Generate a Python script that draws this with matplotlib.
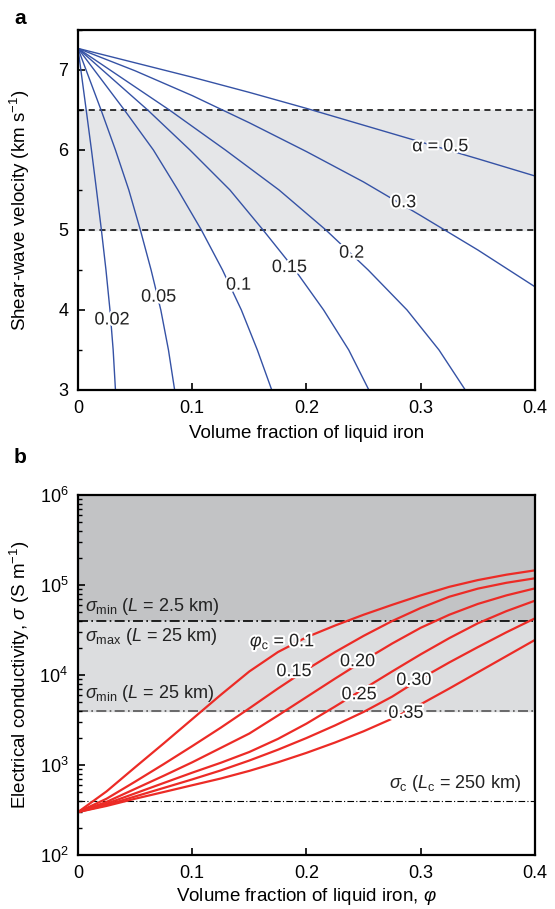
import matplotlib
matplotlib.use("Agg")
import matplotlib.pyplot as plt
import matplotlib.patheffects as pe
from matplotlib.ticker import MultipleLocator, LogLocator, NullFormatter

plt.rcParams['font.family'] = ['Liberation Sans', 'DejaVu Sans']
plt.rcParams['mathtext.fontset'] = 'custom'
plt.rcParams['mathtext.rm'] = 'Liberation Sans'
plt.rcParams['mathtext.it'] = 'Liberation Sans:italic'
plt.rcParams['mathtext.bf'] = 'Liberation Sans:bold'
plt.rcParams['font.size'] = 13

# ---- panel a: shear-wave velocity vs liquid fraction, one curve per alpha
alpha_labels = ["0.02", "0.05", "0.1", "0.15", "0.2", "0.3", "α = 0.5"]
vs_levels = [7.27, 6.5, 6.0, 5.5, 5.0, 4.5, 4.0, 3.5, 3.0]
vs_x_a002 = [0, 0.0072, 0.0118, 0.0162, 0.0205, 0.0245, 0.0280, 0.0308, 0.0328]
vs_x_a005 = [0, 0.0202, 0.0328, 0.0445, 0.0546, 0.0640, 0.0725, 0.0792, 0.0846]
vs_x_a01 = [0, 0.0406, 0.0660, 0.0875, 0.1080, 0.1265, 0.1430, 0.1570, 0.1696]
vs_x_a015 = [0, 0.061, 0.098, 0.133, 0.162, 0.190, 0.215, 0.237, 0.2546]
vs_x_a02 = [0, 0.080, 0.129, 0.176, 0.217, 0.254, 0.288, 0.316, 0.339]
phi_grid_a = [0, 0.05, 0.1, 0.15, 0.2, 0.25, 0.3, 0.35, 0.4]
vs_a03 = [7.27, 6.99, 6.68, 6.34, 5.98, 5.60, 5.18, 4.75, 4.29]
vs_a05 = [7.27, 7.09, 6.91, 6.72, 6.52, 6.31, 6.10, 5.89, 5.675]
alpha_label_x = [0.0298, 0.0706, 0.1405, 0.185, 0.2395, 0.285, 0.317]
alpha_label_y = [3.875, 4.16, 4.31, 4.53, 4.71, 5.34, 6.04]
vs_band = [5.0, 6.5]

# ---- panel b: electrical conductivity (S/m), one curve per critical fraction
phic_labels = [r"$\varphi_{\rm c}$ = 0.1", "0.15", "0.20", "0.25", "0.30", "0.35"]
phi_grid_b = [0, 0.025, 0.05, 0.075, 0.1, 0.125, 0.15, 0.175, 0.2,
              0.225, 0.25, 0.275, 0.3, 0.325, 0.35, 0.375, 0.4]
sig_pc010 = [300, 509, 944, 1738, 3236, 6026, 10960, 17990, 26300,
             35480, 46770, 60260, 76740, 95500, 113500, 130300, 145600]
sig_pc015 = [300, 422, 653, 1023, 1622, 2600, 4266, 7079, 11480,
             17990, 27230, 39810, 55590, 74130, 91200, 105900, 118900]
sig_pc020 = [300, 389, 543, 759, 1072, 1549, 2239, 3548, 5689,
             9120, 14450, 22390, 33500, 46770, 61660, 76740, 91830]
sig_pc025 = [300, 372, 484, 631, 822, 1059, 1396, 1950, 2884,
             4467, 7000, 10960, 16980, 25700, 37580, 51290, 66990]
sig_pc030 = [300, 359, 447, 556, 692, 871, 1122, 1479, 1995,
             2754, 3890, 5754, 9120, 13800, 20420, 29850, 42660]
sig_pc035 = [300, 351, 422, 501, 596, 708, 861, 1072, 1365,
             1778, 2371, 3273, 4732, 7079, 10720, 16220, 24550]
phic_label_x = [0.179, 0.189, 0.2447, 0.246, 0.294, 0.287]
phic_label_y = [23400, 10900, 14060, 6030, 8710, 3750]

sig_min_25 = 4000
sig_max_25 = 40000
sig_c = 400

xticks = [0, 0.1, 0.2, 0.3, 0.4]
xticklabels = ["0", "0.1", "0.2", "0.3", "0.4"]

blue = "#3552a5"
red = "#ec2b26"
txt = "#222222"
halo = [pe.withStroke(linewidth=3, foreground="white")]
dashdot = (0, (6, 2, 1, 2))

fig = plt.figure(figsize=(5.55, 9.09), dpi=100)
ax1 = fig.add_axes([0.1405, 0.5710, 0.8234, 0.3960])
ax2 = fig.add_axes([0.1405, 0.0594, 0.8234, 0.3960])

# panel a
ax1.axhspan(vs_band[0], vs_band[1], color="#e5e6e8", zorder=0)
for v in vs_band:
    ax1.axhline(v, color="black", lw=1.1, ls=(0, (4, 3)), zorder=1)
for xs in [vs_x_a002, vs_x_a005, vs_x_a01, vs_x_a015, vs_x_a02]:
    ax1.plot(xs, vs_levels, color=blue, lw=1.0, zorder=2)
ax1.plot(phi_grid_a, vs_a03, color=blue, lw=1.0, zorder=2)
ax1.plot(phi_grid_a, vs_a05, color=blue, lw=1.0, zorder=2)
for lab, lx, ly in zip(alpha_labels, alpha_label_x, alpha_label_y):
    ax1.text(lx, ly, lab, ha="center", va="center", fontsize=13,
             color=txt, path_effects=halo, zorder=3)
ax1.set_xlim(0, 0.4)
ax1.set_ylim(3, 7.5)
ax1.yaxis.set_major_locator(MultipleLocator(1))
ax1.yaxis.set_minor_locator(MultipleLocator(0.5))
ax1.set_ylabel(r"Shear-wave velocity (km s$^{-1}$)", fontsize=13.5)
ax1.set_xlabel("Volume fraction of liquid iron", fontsize=13.5, labelpad=6)

# panel b
ax2.set_yscale("log")
ax2.axhspan(sig_max_25, 1e6, color="#c2c3c5", zorder=0)
ax2.axhspan(sig_min_25, sig_max_25, color="#dcdddf", zorder=0)
ax2.axhline(sig_max_25, color="black", lw=1.2, ls=dashdot, zorder=1)
ax2.axhline(sig_min_25, color="#555555", lw=1.2, ls=dashdot, zorder=1)
ax2.axhline(sig_c, color="black", lw=0.8, ls=dashdot, zorder=1)
for ys in [sig_pc010, sig_pc015, sig_pc020, sig_pc025, sig_pc030, sig_pc035]:
    ax2.plot(phi_grid_b, ys, color=red, lw=1.6, zorder=2)
for lab, lx, ly in zip(phic_labels, phic_label_x, phic_label_y):
    ax2.text(lx, ly, lab, ha="center", va="center", fontsize=13,
             color=txt, path_effects=halo, zorder=3)
ax2.text(0.006, 58000, r"$\sigma_{\rm min}$ ($L$ = 2.5 km)", ha="left", va="center",
         fontsize=13, color=txt)
ax2.text(0.006, 27000, r"$\sigma_{\rm max}$ ($L$ = 25 km)", ha="left", va="center",
         fontsize=13, color=txt)
ax2.text(0.006, 6300, r"$\sigma_{\rm min}$ ($L$ = 25 km)", ha="left", va="center",
         fontsize=13, color=txt)
ax2.text(0.388, 617, r"$\sigma_{\rm c}$ ($L_{\rm c}$ = 250 km)", ha="right", va="center",
         fontsize=13, color=txt)
ax2.set_xlim(0, 0.4)
ax2.set_ylim(1e2, 1e6)
ax2.yaxis.set_major_locator(LogLocator(base=10, numticks=10))
ax2.yaxis.set_minor_locator(LogLocator(base=10, subs=range(2, 10), numticks=20))
ax2.yaxis.set_minor_formatter(NullFormatter())
ax2.set_ylabel(r"Electrical conductivity, $\sigma$ (S m$^{-1}$)", fontsize=13.5)
ax2.set_xlabel(r"Volume fraction of liquid iron, $\varphi$", fontsize=13.5, labelpad=3)

for ax in (ax1, ax2):
    ax.set_xticks(xticks)
    ax.set_xticklabels(xticklabels)
    for s in ax.spines.values():
        s.set_linewidth(1.6)
    ax.tick_params(which="both", direction="in", top=False, right=False,
                   labelsize=13, pad=7)
    ax.tick_params(which="major", length=5, width=1.2)
    ax.tick_params(which="minor", length=3, width=1.0)
    ax.yaxis.set_label_coords(-0.100, 0.5)

fig.text(0.036, 0.980, "a", fontsize=15, fontweight="bold", ha="center", va="center")
fig.text(0.036, 0.497, "b", fontsize=15, fontweight="bold", ha="center", va="center")

fig.savefig("out.png", dpi=100)
